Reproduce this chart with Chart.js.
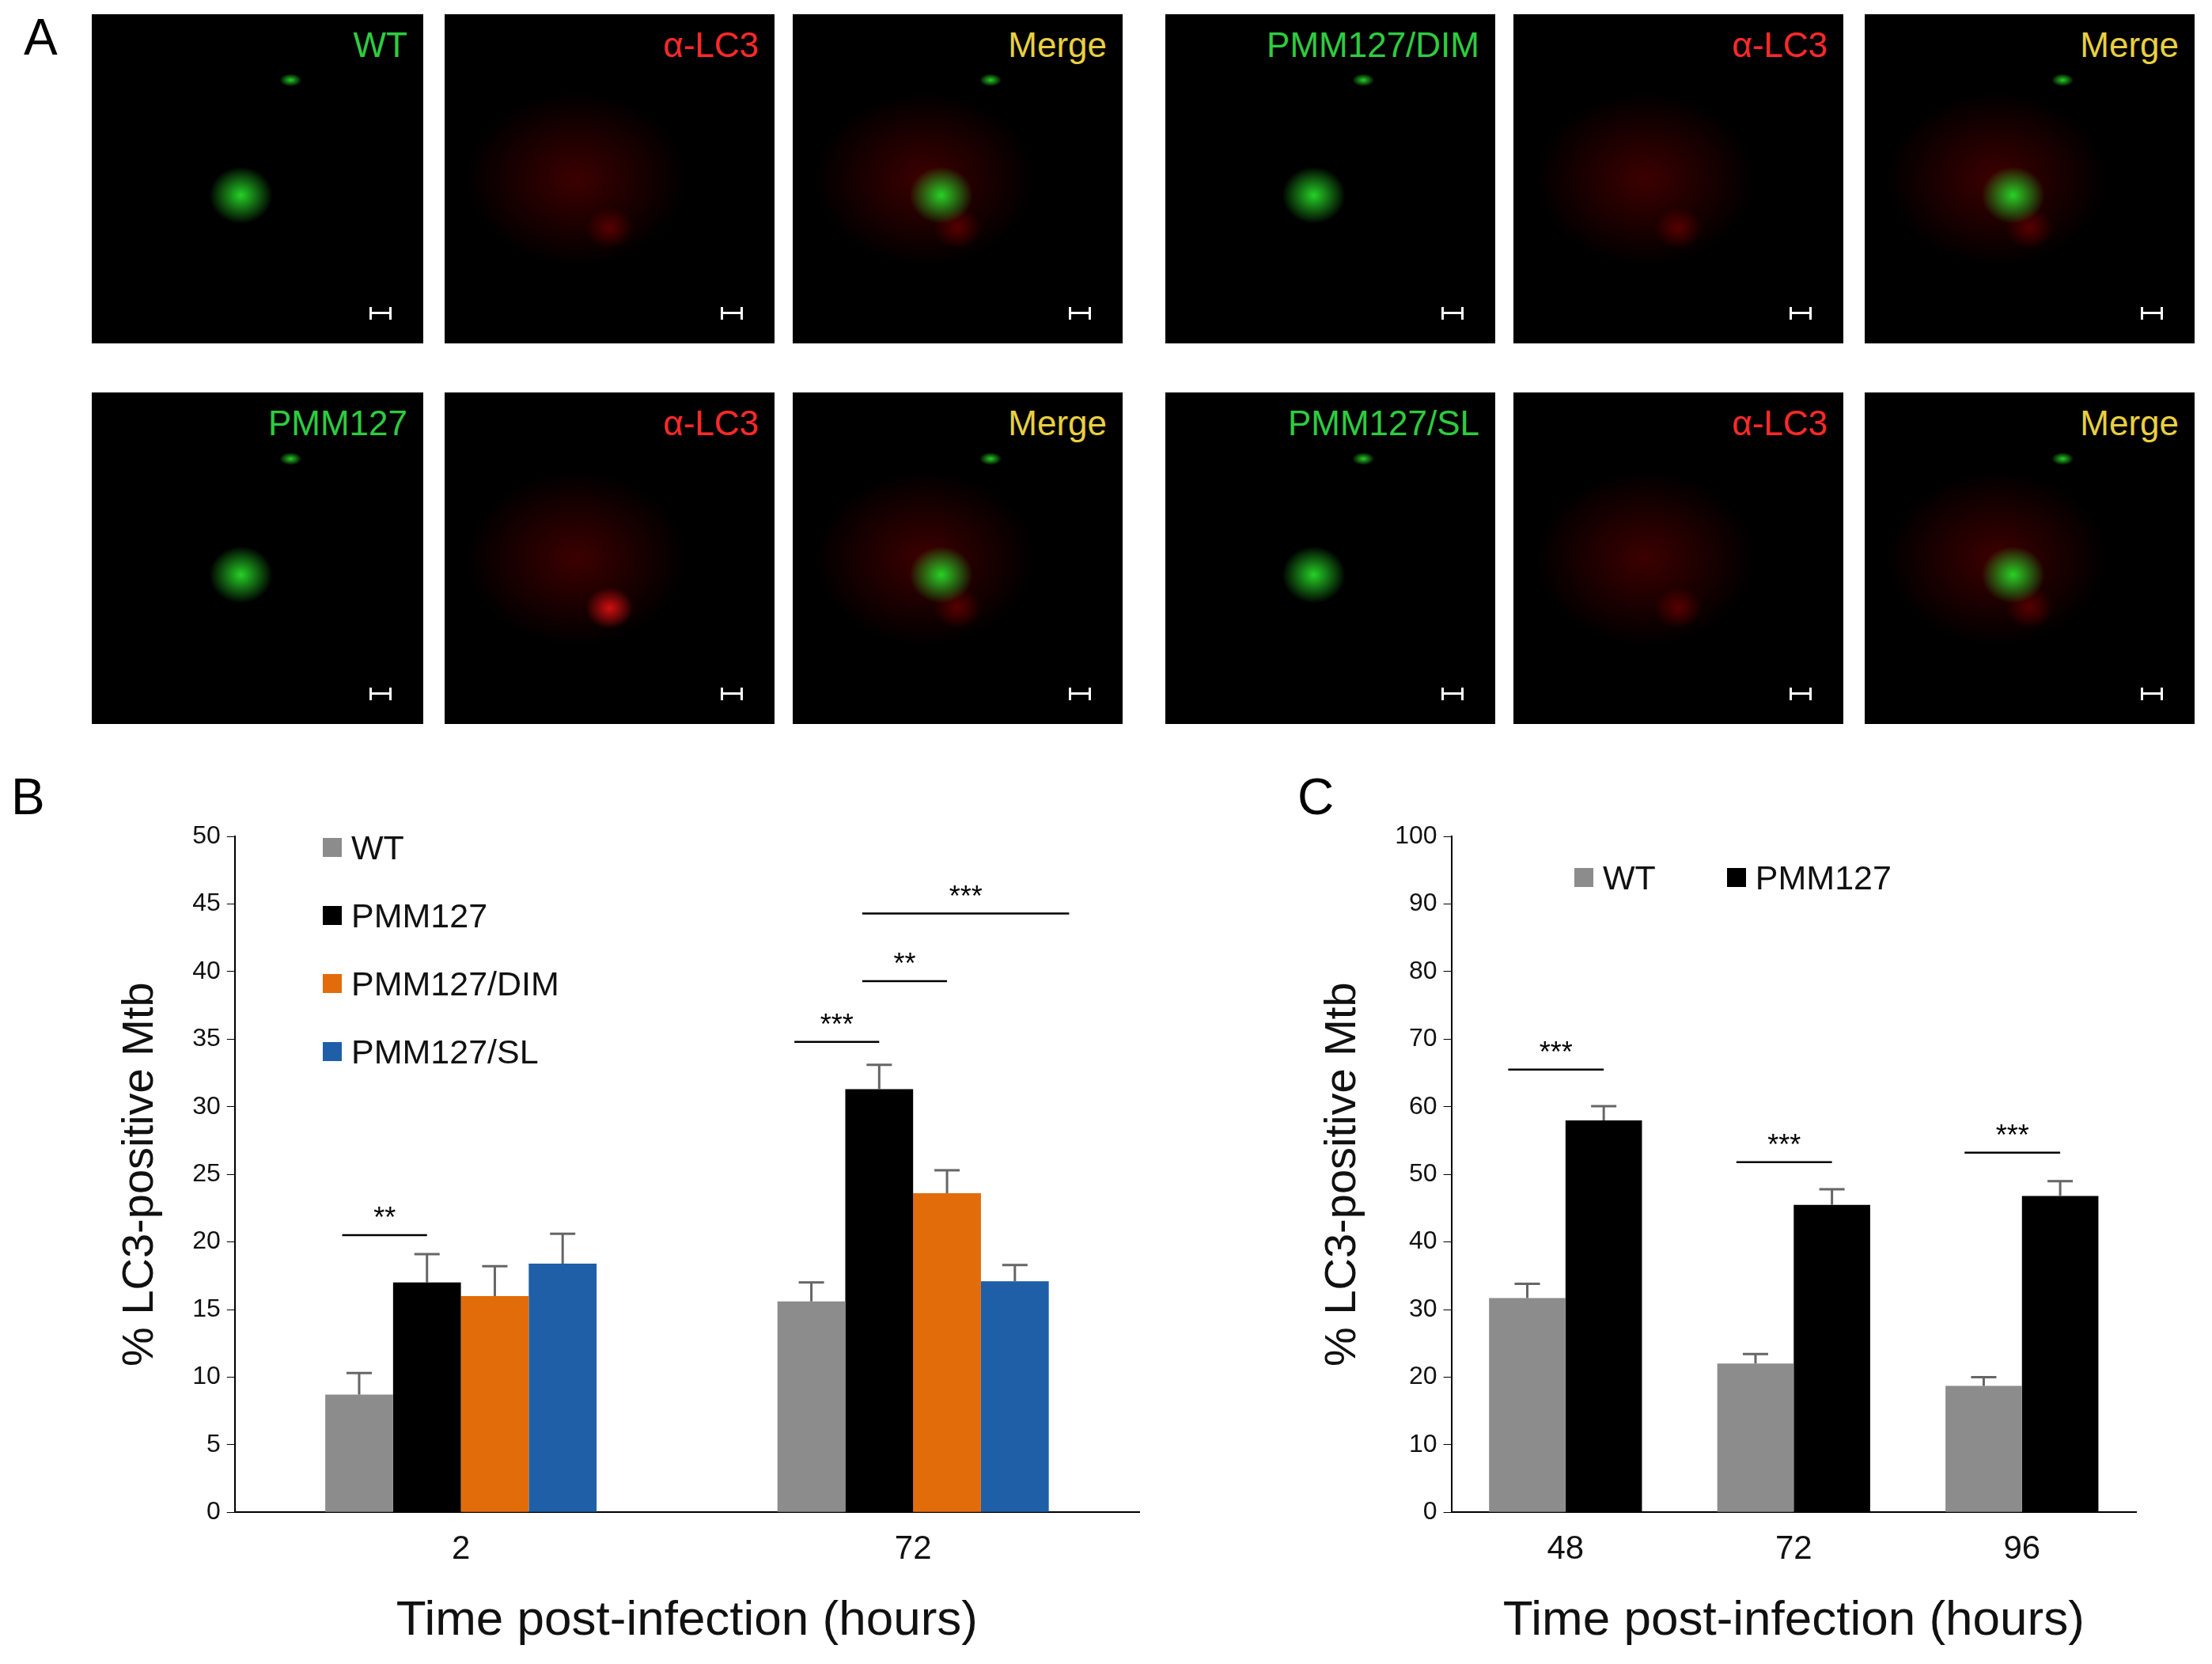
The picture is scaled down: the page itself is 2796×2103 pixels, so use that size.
<!DOCTYPE html>
<html><head><meta charset="utf-8">
<script src="https://cdn.jsdelivr.net/npm/chart.js@4"></script>
<style>
body{margin:0;width:2796px;height:2103px;background:#fff;position:relative;overflow:hidden;font-family:Arial,"Liberation Sans",sans-serif}
.p{position:absolute;background:#000;overflow:hidden}
.lab{position:absolute;top:14px;right:20px;font-size:44px}
.sb{position:absolute;right:40px;bottom:30px;width:22px;height:16px;border-left:3px solid #fff;border-right:3px solid #fff}
.sb:after{content:"";position:absolute;left:0;right:0;top:6px;border-top:3px solid #fff}
.L{position:absolute;font-size:64px}
.cw{position:absolute}
.leg{position:absolute;font-size:43px;color:#111}
.leg div{display:flex;align-items:center;height:86px}
.leg span{display:inline-block;width:24px;height:24px;margin-right:12px}
</style></head><body>
<div class="L" style="left:30px;top:10px">A</div>
<div class="L" style="left:14px;top:970px">B</div>
<div class="L" style="left:1640px;top:970px">C</div>
<div id="A"></div>
<div class="cw" style="left:140px;top:1030px;width:1310px;height:1060px"><canvas id="cB"></canvas></div>
<div class="cw" style="left:1660px;top:1030px;width:1050px;height:1060px"><canvas id="cC"></canvas></div>
<div class="leg" style="left:408px;top:1028px">
<div><span style="background:#8c8c8c"></span>WT</div>
<div><span style="background:#000"></span>PMM127</div>
<div><span style="background:#e36c0a"></span>PMM127/DIM</div>
<div><span style="background:#1f5fa8"></span>PMM127/SL</div>
</div>
<div class="leg" style="left:1990px;top:1066px;display:flex">
<div style="margin-right:90px"><span style="background:#8c8c8c"></span>WT</div>
<div><span style="background:#000"></span>PMM127</div>
</div>
<script>
// Panel A images (schematic)
const panelLabels=[["WT","α-LC3","Merge","PMM127/DIM","α-LC3","Merge"],["PMM127","α-LC3","Merge","PMM127/SL","α-LC3","Merge"]];
const panelCols=[[116,419],[562,417],[1002,417],[1473,417],[1913,417],[2357,417]];
const panelRows=[[18,416],[496,419]];
const A=document.getElementById('A');
panelRows.forEach((r,ri)=>panelCols.forEach((c,ci)=>{
 const d=document.createElement('div');d.className='p';
 d.style.cssText=`left:${c[0]}px;top:${r[0]}px;width:${c[1]}px;height:${r[1]}px`;
 const t=panelLabels[ri][ci];const k=ci%3;
 let bg='';
 const g='rgba(40,220,40,0.95)',rd='rgba(255,20,20,0.9)';
 if(k!==1) bg+=`radial-gradient(ellipse 40px 36px at 45% 55%, ${g}, transparent),radial-gradient(ellipse 14px 8px at 60% 20%, ${g}, transparent),`;
 if(k!==0) bg+=`radial-gradient(ellipse 140px 110px at 40% 50%, rgba(120,0,0,0.5), transparent),radial-gradient(ellipse 30px 26px at 50% 65%, ${ri==1&&ci==1?rd:'rgba(200,0,0,0.4)'}, transparent),`;
 d.style.background=bg+'#000';
 d.innerHTML=`<div class="lab" style="color:${k==0?'#2ecc40':k==1?'#ff2a2a':'#e8d040'}">${t}</div><div class="sb"></div>`;
 A.appendChild(d);
}));

// ===== Data =====
const catsB=["2","72"];
const wtB=[8.7,15.6], wtBerr=[1.6,1.4];
const pmmB=[17.0,31.3], pmmBerr=[2.1,1.8];
const dimB=[16.0,23.6], dimBerr=[2.2,1.7];
const slB=[18.4,17.1], slBerr=[2.2,1.2];
const yTicksB=[0,5,10,15,20,25,30,35,40,45,50];
const catsC=["48","72","96"];
const wtC=[31.7,22.0,18.7], wtCerr=[2.1,1.4,1.3];
const pmmC=[58.0,45.5,46.8], pmmCerr=[2.1,2.3,2.2];
const yTicksC=[0,10,20,30,40,50,60,70,80,90,100];
// significance: [category index, dataset a, dataset b, y value, label]
const sigB=[[0,0,1,20.5,"**"],[1,0,1,34.8,"***"],[1,1,2,39.3,"**"],[1,1,3,44.3,"***"]];
const sigC=[[0,0,1,65.5,"***"],[1,0,1,51.8,"***"],[2,0,1,53.2,"***"]];

const extras={id:'extras',afterDatasetsDraw(ch){
 const c=ch.ctx,y=ch.scales.y;
 c.save();c.strokeStyle='#666';c.lineWidth=3;
 ch.data.datasets.forEach((ds,di)=>{const m=ch.getDatasetMeta(di);
  m.data.forEach((b,i)=>{const top=y.getPixelForValue(ds.data[i]+ds.err[i]);
   c.beginPath();c.moveTo(b.x,b.y);c.lineTo(b.x,top);c.moveTo(b.x-16,top);c.lineTo(b.x+16,top);c.stroke();});});
 c.strokeStyle='#000';c.lineWidth=2.5;c.fillStyle='#000';c.font='36px Arial';c.textAlign='center';
 ch.options.sig.forEach(s=>{const a=ch.getDatasetMeta(s[1]).data[s[0]],b=ch.getDatasetMeta(s[2]).data[s[0]];
  const x1=a.x-a.width*0.25,x2=b.x+b.width*(s[2]-s[1]>1?0.8:0);const yy=y.getPixelForValue(s[3]);
  c.beginPath();c.moveTo(x1,yy);c.lineTo(x2,yy);c.stroke();c.fillText(s[4],(x1+x2)/2,yy-10);});
 c.restore();}};

function mk(id,cats,sets,ticks,max,step,sig,cp){
 new Chart(document.getElementById(id),{type:'bar',
 data:{labels:cats,datasets:sets.map(s=>({data:s[0],err:s[1],backgroundColor:s[2],barPercentage:1,categoryPercentage:cp}))},
 options:{responsive:true,maintainAspectRatio:false,animation:false,sig:sig,
  plugins:{legend:{display:false},tooltip:{enabled:false}},
  layout:{padding:{top:10,right:10}},
  scales:{x:{grid:{display:false},border:{color:'#000',width:2},ticks:{color:'#111',font:{size:42},padding:14},
    title:{display:true,text:'Time post-infection (hours)',color:'#111',font:{size:62},padding:{top:14}}},
   y:{min:0,max:max,afterBuildTicks:a=>{a.ticks=ticks.map(v=>({value:v}))},grid:{drawOnChartArea:false,drawTicks:true,tickLength:10,color:'#000'},border:{color:'#000',width:2},
    ticks:{color:'#111',font:{size:32},padding:8},
    title:{display:true,text:'% LC3-positive Mtb',color:'#111',font:{size:56},padding:{bottom:24}}}}},
 plugins:[extras]});
}
mk('cB',catsB,[[wtB,wtBerr,'#8c8c8c'],[pmmB,pmmBerr,'#000'],[dimB,dimBerr,'#e36c0a'],[slB,slBerr,'#1f5fa8']],yTicksB,50,5,sigB,0.6);
mk('cC',catsC,[[wtC,wtCerr,'#8c8c8c'],[pmmC,pmmCerr,'#000']],yTicksC,100,10,sigC,0.67);
</script></body></html>
